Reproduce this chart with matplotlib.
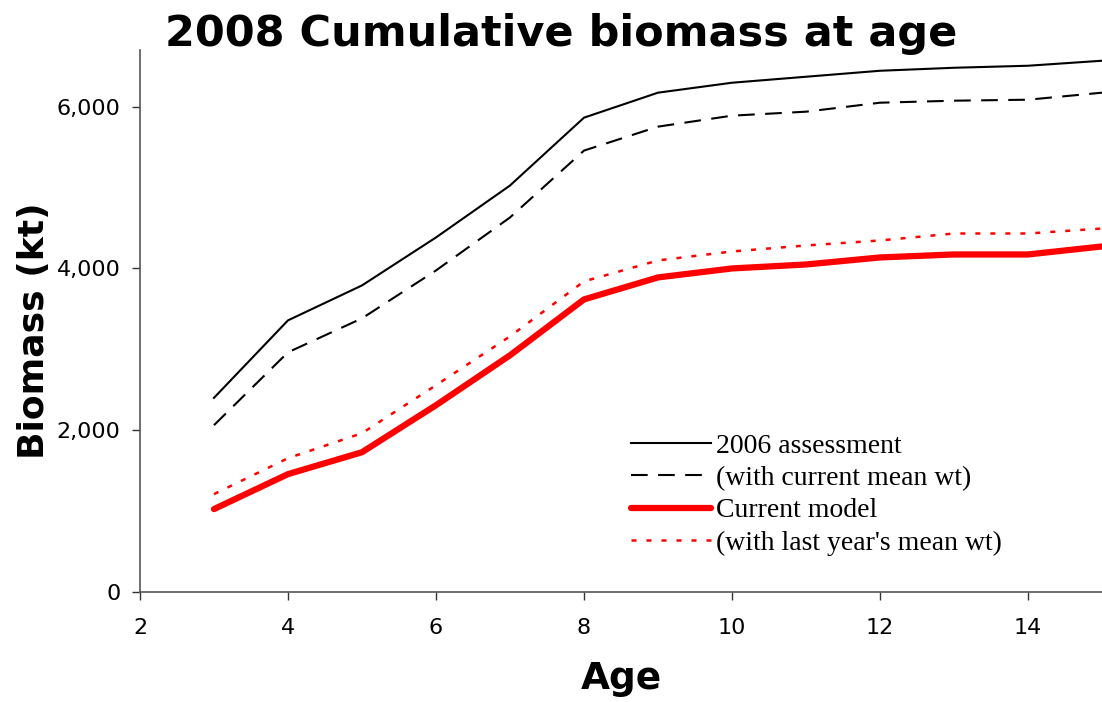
import matplotlib.pyplot as plt
from matplotlib.ticker import FuncFormatter

ages = [3, 4, 5, 6, 7, 8, 9, 10, 11, 12, 13, 14, 15]

assess_2006 = [2400, 3358, 3790, 4383, 5025, 5864, 6173, 6296, 6370, 6444, 6481, 6506, 6568]
assess_2006_cur_wt = [2062, 2963, 3383, 3975, 4630, 5457, 5753, 5889, 5938, 6049, 6074, 6086, 6173]
current_model = [1025, 1457, 1728, 2309, 2926, 3617, 3889, 4000, 4049, 4136, 4173, 4173, 4272]
current_last_wt = [1210, 1654, 1963, 2556, 3160, 3840, 4099, 4210, 4284, 4346, 4432, 4432, 4494]

fig = plt.figure(figsize=(11.02, 7.02), dpi=100)
ax = fig.add_axes([0.127, 0.1567, 0.873, 0.772])

ax.plot(ages, assess_2006, color="black", lw=1.5, label="2006 assessment")
ax.plot(ages, assess_2006_cur_wt, color="black", lw=1.5, dashes=(8, 5),
        label="(with current mean wt)")
ax.plot(ages, current_model, color="red", lw=4.5, solid_capstyle="round",
        label="Current model")
ax.plot(ages, current_last_wt, color="red", lw=1.8, dashes=(2, 4),
        label="(with last year's mean wt)")

ax.set_xlim(2, 15)
ax.set_ylim(0, 6700)
ax.set_xticks([2, 4, 6, 8, 10, 12, 14])
ax.set_yticks([0, 2000, 4000, 6000])
ax.yaxis.set_major_formatter(FuncFormatter(lambda v, p: f"{int(v):,}"))

for s in ["top", "right"]:
    ax.spines[s].set_visible(False)
for s in ["left", "bottom"]:
    ax.spines[s].set_color("#555555")
    ax.spines[s].set_linewidth(1.2)

ax.tick_params(axis="both", direction="out", length=6, width=1,
               color="#333333", labelsize=16)
ax.tick_params(axis="x", pad=13)
ax.tick_params(axis="y", pad=8)
for lab in ax.get_xticklabels() + ax.get_yticklabels():
    lab.set_family("DejaVu Sans")

ax.set_xlabel("Age", family="DejaVu Sans", fontsize=27,
              fontweight="bold", labelpad=16)
ax.set_ylabel("Biomass (kt)", family="DejaVu Sans", fontsize=26,
              fontweight="bold", labelpad=4)
ax.yaxis.label.set_y(0.483)

fig.text(0.509, 0.952, "2008 Cumulative biomass at age",
         family="DejaVu Sans", fontsize=31, fontweight="bold",
         ha="center", va="center")

ax.legend(loc="lower left", bbox_to_anchor=(0.49, 0.031), frameon=False,
          prop={"family": "Liberation Serif", "size": 20},
          handlelength=2.9, handletextpad=0.15, labelspacing=0.25,
          borderpad=0.2)

fig.savefig("out.png", dpi=100)
